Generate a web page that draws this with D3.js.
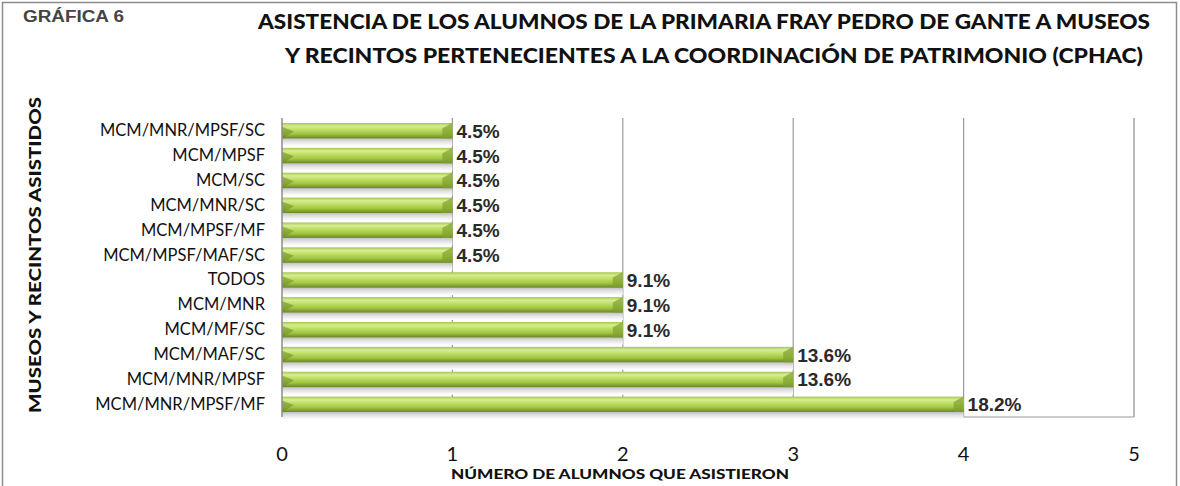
<!DOCTYPE html>
<html><head><meta charset="utf-8">
<script src="https://cdn.jsdelivr.net/npm/d3@7"></script>
<style>body{margin:0;background:#fff}svg{display:block}</style>
</head><body>
<svg id="c" width="1180" height="486"></svg>
<script>
const categories = ["MCM/MNR/MPSF/SC","MCM/MPSF","MCM/SC","MCM/MNR/SC","MCM/MPSF/MF","MCM/MPSF/MAF/SC","TODOS","MCM/MNR","MCM/MF/SC","MCM/MAF/SC","MCM/MNR/MPSF","MCM/MNR/MPSF/MF"];
const values = [1,1,1,1,1,1,2,2,2,3,3,4];
const percentLabels = ["4.5%","4.5%","4.5%","4.5%","4.5%","4.5%","9.1%","9.1%","9.1%","13.6%","13.6%","18.2%"];
const xTicks = [0,1,2,3,4,5];

const svg = d3.select("#c");
const m = {left:282, right:1134, top:118, bottom:417};
const F = "Lato, 'Open Sans', sans-serif";

const defs = svg.append("defs");
const g1 = defs.append("linearGradient").attr("id","barg").attr("x1",0).attr("y1",0).attr("x2",0).attr("y2",1);
[[0,"#a6c552"],[0.2,"#d6ee90"],[0.42,"#c0df66"],[0.72,"#9fc440"],[1,"#6a8528"]].forEach(([o,c])=>g1.append("stop").attr("offset",o).attr("stop-color",c));
const g2 = defs.append("linearGradient").attr("id","shad").attr("x1",0).attr("y1",0).attr("x2",0).attr("y2",1);
[[0,"#b8b8b8"],[0.5,"#e2e2e2"],[1,"#ffffff"]].forEach(([o,c])=>g2.append("stop").attr("offset",o).attr("stop-color",c));

// outer frame
svg.append("rect").attr("x",2.5).attr("y",2.5).attr("width",1174).attr("height",490).attr("fill","none").attr("stroke","#8c8c8c").attr("stroke-width",1.5);

const x = d3.scaleLinear().domain([0,5]).range([m.left,m.right]);
const y = d3.scaleBand().domain(categories).range([m.top,m.bottom]).paddingInner(0.38).paddingOuter(0.2);

// gridlines
svg.append("g").selectAll("line").data(xTicks.filter(d=>d>0)).join("line")
  .attr("x1",d=>x(d)).attr("x2",d=>x(d)).attr("y1",m.top).attr("y2",m.bottom)
  .attr("stroke",d=>d===5?"#8c8c8c":"#9a9a9a").attr("stroke-width",1.2);
svg.append("line").attr("x1",m.left).attr("x2",m.right).attr("y1",m.bottom).attr("y2",m.bottom).attr("stroke","#9a9a9a").attr("stroke-width",1.2);

// shadows
svg.append("g").selectAll("rect").data(categories).join("rect")
  .attr("x",m.left).attr("y",(d)=>y(d)+y.bandwidth()-1).attr("height",y.bandwidth()*0.55)
  .attr("width",(d,i)=>x(values[i])-m.left).attr("fill","url(#shad)");

// bars
const bars = svg.append("g");
bars.selectAll("rect").data(categories).join("rect")
  .attr("x",m.left).attr("y",d=>y(d)).attr("height",y.bandwidth())
  .attr("width",(d,i)=>x(values[i])-m.left).attr("fill","url(#barg)");
bars.selectAll("path.rb").data(categories).join("path").attr("class","rb")
  .attr("d",(d,i)=>{const xe=x(values[i]),y0=y(d),h=y.bandwidth();return `M${xe-10},${y0+h*0.35}L${xe},${y0}L${xe},${y0+h}L${xe-10},${y0+h}Z`;})
  .attr("fill","#7f9f30").attr("opacity",0.7);
bars.selectAll("path.lb").data(categories).join("path").attr("class","lb")
  .attr("d",(d,i)=>{const xs=m.left,y0=y(d),h=y.bandwidth();return `M${xs},${y0+h*0.25}L${xs+12},${y0+h*0.55}L${xs},${y0+h}Z`;})
  .attr("fill","#6d8a26").attr("opacity",0.55);

svg.append("line").attr("x1",m.left).attr("x2",m.left).attr("y1",m.top).attr("y2",m.bottom).attr("stroke","#8c8c8c").attr("stroke-width",1.5);

// value labels
svg.append("g").selectAll("text").data(categories).join("text")
  .attr("x",(d,i)=>x(values[i])+4).attr("y",d=>y(d)+y.bandwidth()/2+7)
  .attr("font-family","Liberation Sans, Arial, sans-serif").attr("font-weight","bold").attr("font-size",19).attr("fill","#2a2a2a")
  .text((d,i)=>percentLabels[i]);

// category labels
svg.append("g").selectAll("text").data(categories).join("text")
  .attr("x",265).attr("y",d=>y(d)+y.bandwidth()/2+5.5)
  .attr("text-anchor","end").attr("font-family",F).attr("font-size",16.5).attr("fill","#111")
  .text(d=>d);

// x tick labels
svg.append("g").selectAll("text").data(xTicks).join("text")
  .attr("x",d=>x(d)).attr("y",461).attr("text-anchor","middle")
  .attr("font-family",F).attr("font-size",20).attr("fill","#111").text(d=>d);

// titles
svg.append("text").attr("x",23).attr("y",22).attr("font-family","Liberation Sans, Arial, sans-serif").attr("font-weight","bold").attr("font-size",16).attr("fill","#444")
  .attr("textLength",101).attr("lengthAdjust","spacingAndGlyphs").text("GRÁFICA 6");
svg.append("text").attr("x",704).attr("y",29).attr("text-anchor","middle").attr("font-family",F).attr("font-weight","900").attr("font-size",21).attr("fill","#111")
  .attr("textLength",892).attr("lengthAdjust","spacingAndGlyphs")
  .text("ASISTENCIA DE LOS ALUMNOS DE LA PRIMARIA FRAY PEDRO DE GANTE A MUSEOS");
svg.append("text").attr("x",714).attr("y",63).attr("text-anchor","middle").attr("font-family",F).attr("font-weight","900").attr("font-size",21).attr("fill","#111")
  .attr("textLength",858).attr("lengthAdjust","spacingAndGlyphs")
  .text("Y RECINTOS PERTENECIENTES A LA COORDINACIÓN DE PATRIMONIO (CPHAC)");
svg.append("text").attr("transform","translate(41,255) rotate(-90)").attr("text-anchor","middle").attr("font-family",F).attr("font-weight","900").attr("font-size",17).attr("fill","#111")
  .attr("textLength",316).attr("lengthAdjust","spacingAndGlyphs")
  .text("MUSEOS Y RECINTOS ASISTIDOS");
svg.append("text").attr("x",620).attr("y",479).attr("text-anchor","middle").attr("font-family",F).attr("font-weight","900").attr("font-size",14).attr("fill","#111")
  .attr("textLength",338).attr("lengthAdjust","spacingAndGlyphs")
  .text("NÚMERO DE ALUMNOS QUE ASISTIERON");
</script>
</body></html>
